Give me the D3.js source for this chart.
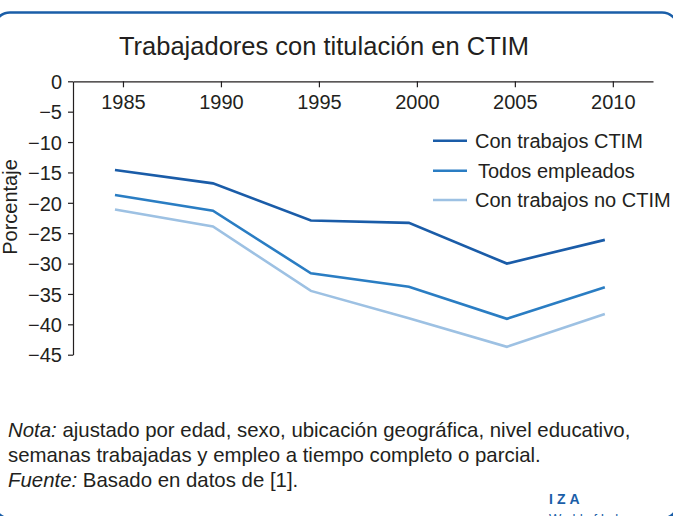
<!DOCTYPE html>
<html>
<head>
<meta charset="utf-8">
<script src="https://cdn.jsdelivr.net/npm/d3@7"></script>
<style>
  body { margin: 0; background: #fff; }
  svg { display: block; font-family: "Liberation Sans", Arial, sans-serif; }
  .axis text { fill: #231f20; font-size: 20px; }
  .axis path, .axis line { stroke: #231f20; stroke-width: 1.2; }
</style>
</head>
<body>
<svg id="chart"></svg>
<script>
// data
let years = [1985, 1990, 1995, 2000, 2005, 2010];
let ctim = [-14.6, -16.8, -22.9, -23.3, -30.0, -26.1];
let todos = [-18.7, -21.3, -31.6, -33.8, -39.1, -33.9];
let noCtim = [-21.1, -23.9, -34.5, -39.0, -43.7, -38.3];
let yTicks = [0, -5, -10, -15, -20, -25, -30, -35, -40, -45];
let seriesNames = ["Con trabajos CTIM", "Todos empleados", "Con trabajos no CTIM"];
let seriesColors = ["#1a5ca8", "#2a7dc3", "#9dc1e3"];

let width = 673, height = 516;
let svg = d3.select("#chart").attr("width", width).attr("height", height);

// frame
svg.append("rect")
  .attr("x", -6).attr("y", 12.5)
  .attr("width", 684).attr("height", 506)
  .attr("rx", 16)
  .attr("fill", "none")
  .attr("stroke", "#1a5ea8")
  .attr("stroke-width", 2.6);

svg.append("text")
  .attr("x", 324).attr("y", 55)
  .attr("text-anchor", "middle")
  .style("font-size", "25.5px")
  .style("fill", "#231f20")
  .text("Trabajadores con titulación en CTIM");

let scaleX = d3.scaleLinear().domain([1982.45, 2012.05]).range([73, 653]);
let scaleY = d3.scaleLinear().domain([0, -45]).range([81.3, 354.7]);

let axisX = d3.axisBottom(scaleX).tickValues(years).tickFormat(d3.format("d")).tickSize(6).tickSizeOuter(0);
svg.append("g")
  .attr("class", "axis")
  .attr("transform", "translate(0,81.3)")
  .call(axisX)
  .call(g => g.selectAll("text").attr("dy", "0").attr("y", 28));

let axisY = d3.axisLeft(scaleY).tickValues(yTicks).tickFormat(d => d === 0 ? "0" : "\u2212" + Math.abs(d)).tickSize(5).tickSizeOuter(0);
svg.append("g")
  .attr("class", "axis")
  .attr("transform", "translate(73,0)")
  .call(axisY)
  .call(g => g.selectAll("text").attr("x", -11).attr("dy", "0.36em"));

svg.append("text")
  .attr("transform", "translate(17,207) rotate(-90)")
  .attr("text-anchor", "middle")
  .style("font-size", "20px")
  .style("fill", "#231f20")
  .text("Porcentaje");

let allSeries = [ctim, todos, noCtim];
let line = d3.line()
  .x((d, i) => scaleX(years[i]))
  .y(d => scaleY(d));

// lines sit a bit left of the ticks in the original
let plot = svg.append("g").attr("transform", "translate(-8,0)");
plot.selectAll(".series")
  .data(allSeries)
  .enter()
  .append("path")
  .attr("class", "series")
  .attr("d", d => line(d))
  .attr("fill", "none")
  .attr("stroke", (d, i) => seriesColors[i])
  .attr("stroke-width", 2.6);

// legend
let legendY = [140.7, 170.7, 200];
let legend = svg.append("g");
seriesNames.forEach(function(name, i) {
  legend.append("line")
    .attr("x1", 433).attr("x2", 467)
    .attr("y1", legendY[i]).attr("y2", legendY[i])
    .attr("stroke", seriesColors[i])
    .attr("stroke-width", 2.6);
  legend.append("text")
    .attr("x", i === 1 ? 478 : 475)
    .attr("y", legendY[i] + 7)
    .style("font-size", "20px")
    .style("fill", "#231f20")
    .text(name);
});

// notes
let notes = svg.append("g").style("font-size", "20.4px").style("fill", "#231f20");
let t1 = notes.append("text").attr("x", 8).attr("y", 437);
t1.append("tspan").style("font-style", "italic").text("Nota:");
t1.append("tspan").text(" ajustado por edad, sexo, ubicación geográfica, nivel educativo,");
notes.append("text").attr("x", 8).attr("y", 462)
  .text("semanas trabajadas y empleo a tiempo completo o parcial.");
let t3 = notes.append("text").attr("x", 8).attr("y", 487);
t3.append("tspan").style("font-style", "italic").text("Fuente:");
t3.append("tspan").text(" Basado en datos de [1].");

// logo
svg.append("text")
  .attr("x", 549).attr("y", 504)
  .style("font-size", "14px")
  .style("font-weight", "bold")
  .style("letter-spacing", "4px")
  .style("fill", "#1a5ea8")
  .text("IZA");
svg.append("text")
  .attr("x", 549).attr("y", 523)
  .style("font-size", "13px")
  .style("fill", "#1a5ea8")
  .text("World of Labor");
</script>
</body>
</html>
